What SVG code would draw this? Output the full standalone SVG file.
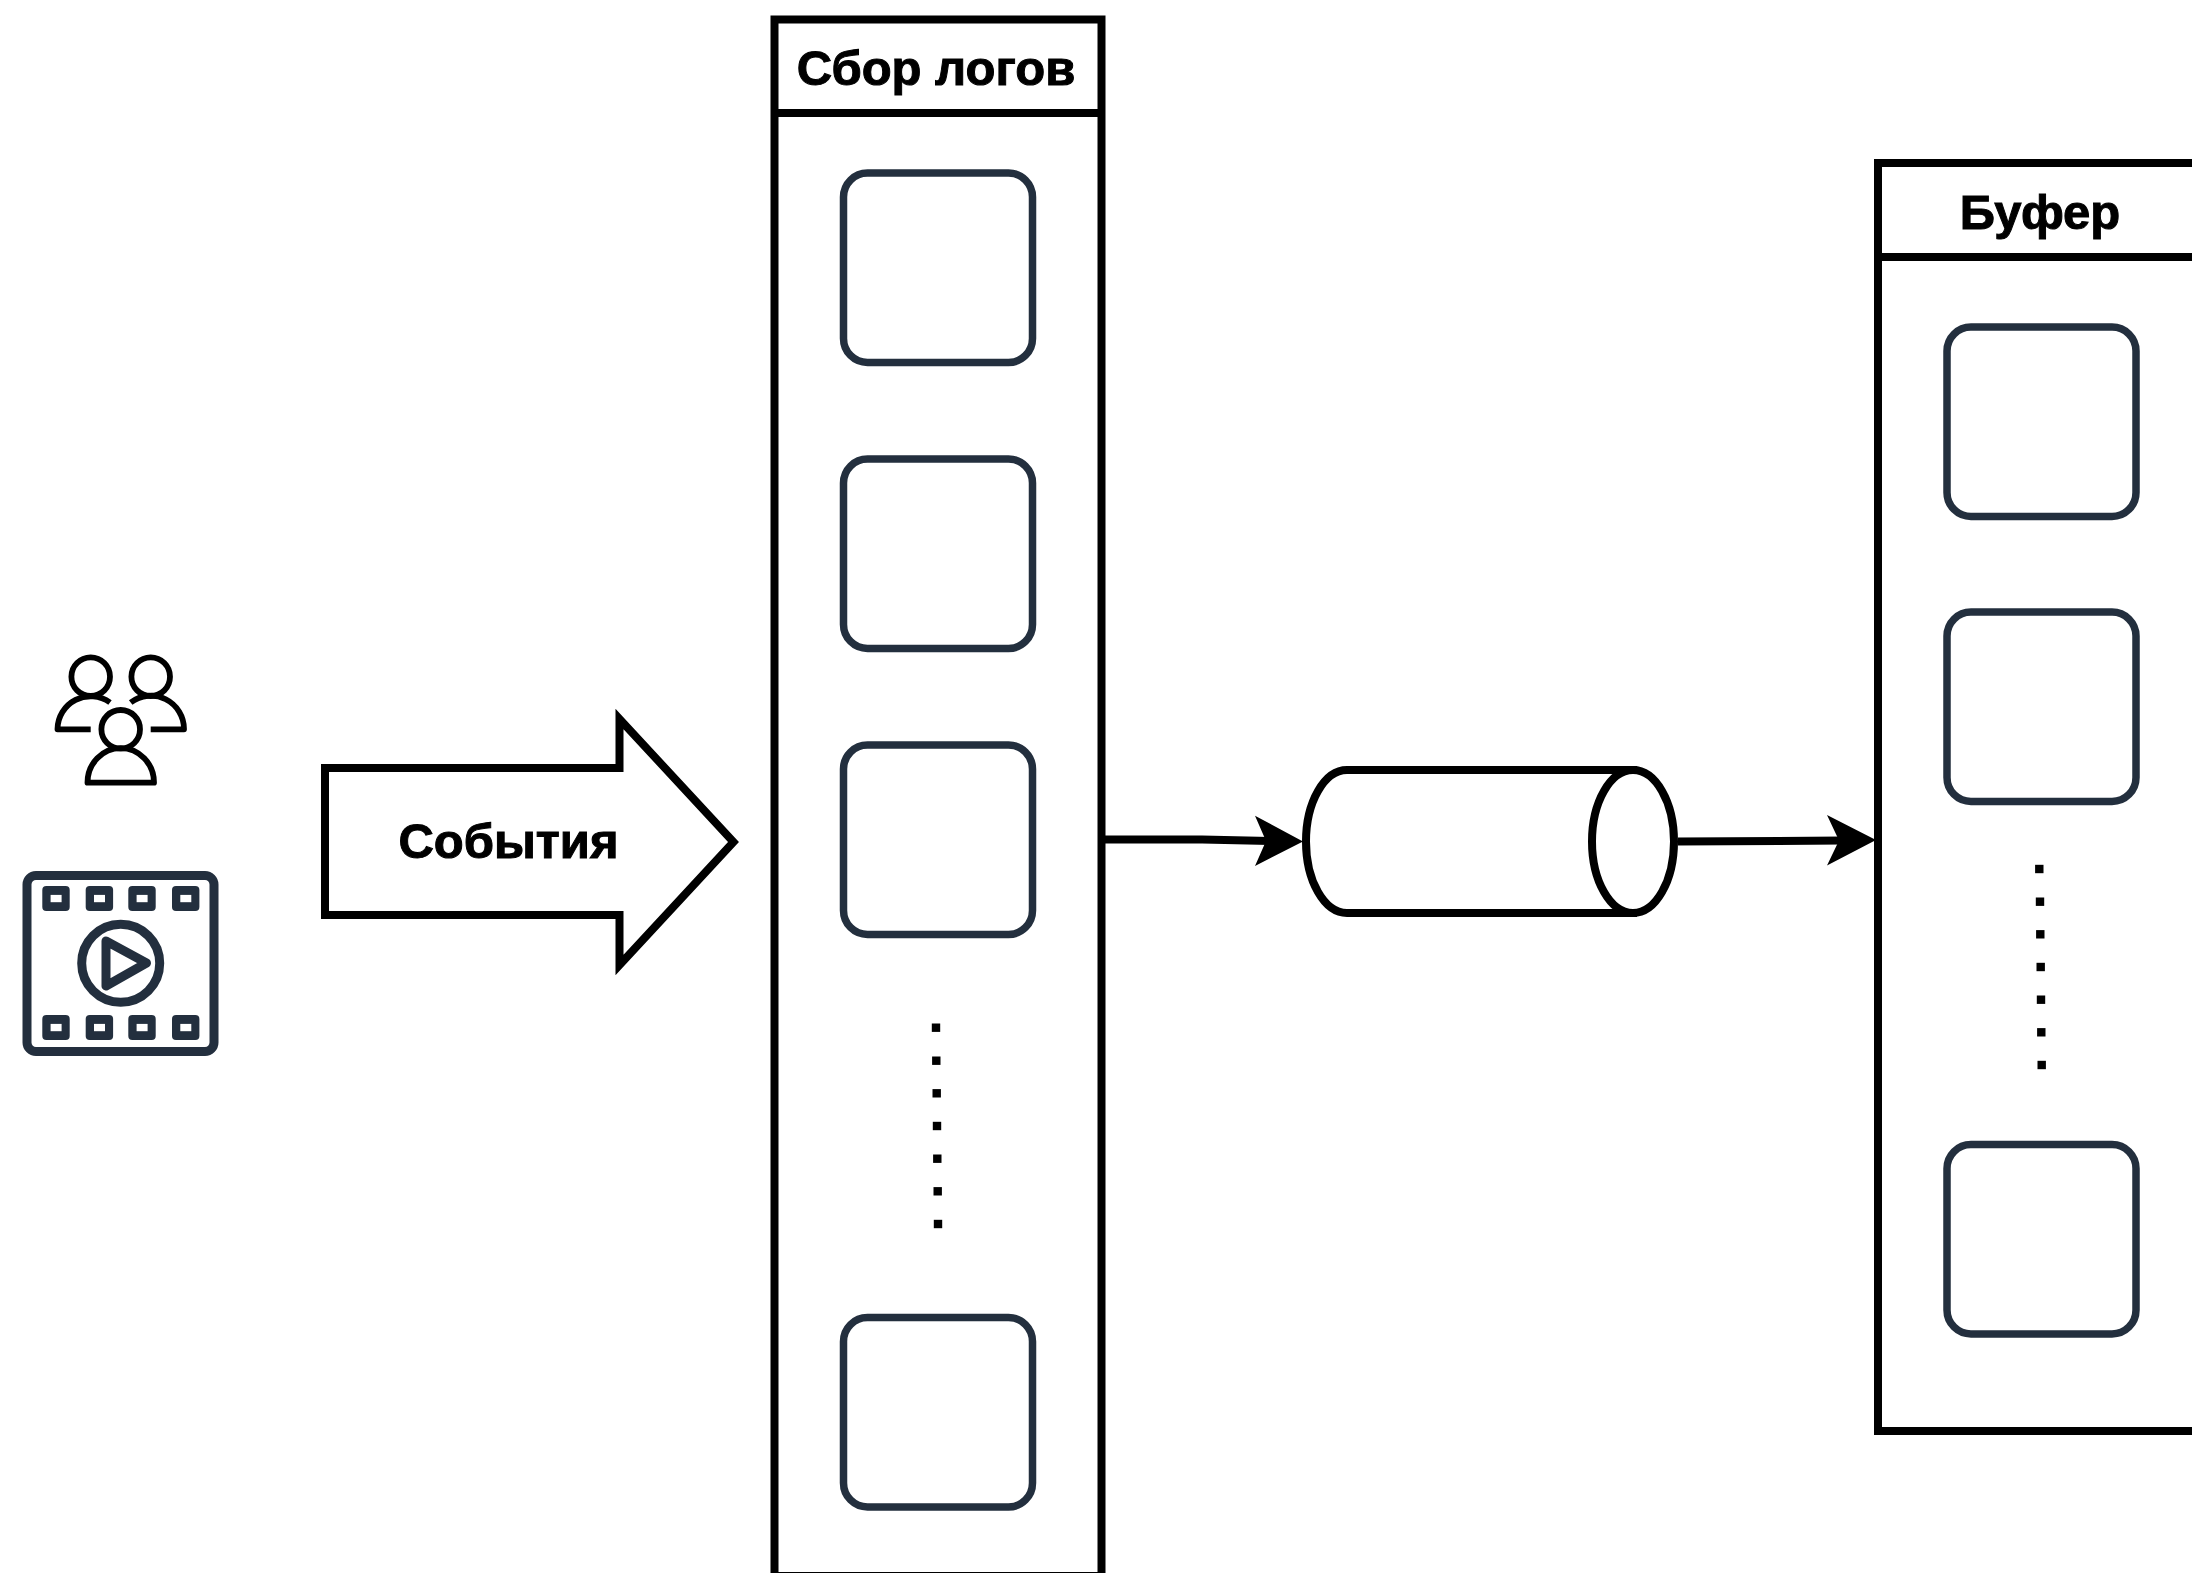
<svg xmlns="http://www.w3.org/2000/svg" width="2192" height="1573" viewBox="0 0 2192 1573">
<style>
.lane{fill:#fff;stroke:#000;stroke-width:8}
.box{fill:#fff;stroke:#232f3e;stroke-width:7.500}
.t{font-family:"Liberation Sans",Arial,sans-serif;font-weight:700;font-size:49px;fill:#000;stroke:#000;stroke-width:1;text-anchor:middle}
.dot{fill:#000}
.sym{fill:none;stroke:#000;stroke-width:5.800;stroke-linejoin:round;stroke-linecap:butt}
.film{fill:none;stroke:#232f3e;stroke-width:9;stroke-linejoin:round}
.sp{fill:#232f3e}
.hole{fill:#fff}
.c{fill:none;stroke:#000;stroke-width:8}
</style>
<defs>
<rect id="b" class="box" width="189" height="189.500" rx="24"/>
<rect id="d" class="dot" x="-4.200" y="-4.200" width="8.400" height="8.400"/>
<g id="s"><rect class="sp" width="27.400" height="25" rx="4"/><rect class="hole" x="8.300" y="8.900" width="11" height="7.300"/></g>
</defs>
<rect width="2192" height="1573" fill="#fff"/>
<g id="users">
<circle class="sym" cx="90.700" cy="676.700" r="19.300"/>
<circle class="sym" cx="150.700" cy="676.700" r="19.300"/>
<circle class="sym" cx="120.700" cy="729.300" r="19.300"/>
<path class="sym" d="M90.700 729.300H57.500A33.200 33.200 0 0 1 110 702.500"/>
<path class="sym" d="M150.700 729.300H184A33.200 33.200 0 0 0 130.700 702.500"/>
<path class="sym" d="M87.500 782.700A33.200 34.500 0 0 1 154 782.700Z"/>
</g>
<g id="video">
<rect class="film" x="27" y="875.500" width="187" height="176" rx="9"/>
<circle class="film" cx="120.700" cy="963.300" r="39"/>
<path class="film" d="M106 941L146.500 963L106 986Z"/>
<use href="#s" x="42.300" y="886"/><use href="#s" x="85.700" y="886"/><use href="#s" x="128.300" y="886"/><use href="#s" x="172" y="886"/>
<use href="#s" x="42.300" y="1015"/><use href="#s" x="85.700" y="1015"/><use href="#s" x="128.300" y="1015"/><use href="#s" x="172" y="1015"/>
</g>
<g id="events">
<path class="lane" d="M325 768H619.500V719L733.500 842L619.500 965V915H325Z" style="stroke-miterlimit:10"/>
<text class="t" x="508.500" y="858">События</text>
</g>
<g id="collect">
<rect class="lane" x="774.500" y="19.500" width="327" height="1556.500"/>
<path class="lane" d="M771 113H1105"/>
<text class="t" x="936" y="85">Сбор логов</text>
<use href="#b" x="843.500" y="173"/>
<use href="#b" x="843.500" y="459"/>
<use href="#b" x="843.500" y="745"/>
<use href="#b" x="843.500" y="1317.500"/>
<use href="#d" x="936" y="1027.700"/><use href="#d" x="936.300" y="1060.700"/><use href="#d" x="936.700" y="1093.300"/><use href="#d" x="937" y="1126"/><use href="#d" x="937.300" y="1158.700"/><use href="#d" x="937.700" y="1191.300"/><use href="#d" x="938" y="1224"/>
</g>
<g id="queue">
<path class="c" style="fill:#fff" d="M1347 770A41 71.500 0 0 0 1347 913H1633V770Z"/>
<ellipse class="c" style="fill:#fff" cx="1633" cy="841.500" rx="41" ry="71.500"/>
</g>
<g id="buffer">
<rect class="lane" x="1878" y="163" width="400" height="1268"/>
<path class="lane" d="M1874 257H2192"/>
<text class="t" x="2040" y="229">Буфер</text>
<use href="#b" x="1947" y="327"/>
<use href="#b" x="1947" y="612"/>
<use href="#b" x="1947" y="1144.500"/>
<use href="#d" x="2039.300" y="869"/><use href="#d" x="2040" y="901.700"/><use href="#d" x="2040.300" y="934.300"/><use href="#d" x="2040.700" y="967"/><use href="#d" x="2041" y="999.700"/><use href="#d" x="2041.300" y="1032.300"/><use href="#d" x="2041.700" y="1065"/>
</g>
<g id="connectors">
<path class="c" d="M1105 839.500H1202L1270 841"/>
<path d="M1303 841.500L1255 815.700L1266 841L1255 866Z"/>
<path class="c" d="M1678 841.500L1843 840.500"/>
<path d="M1876 840L1827 815L1839 840.500L1827 865.500Z"/>
</g>
</svg>
